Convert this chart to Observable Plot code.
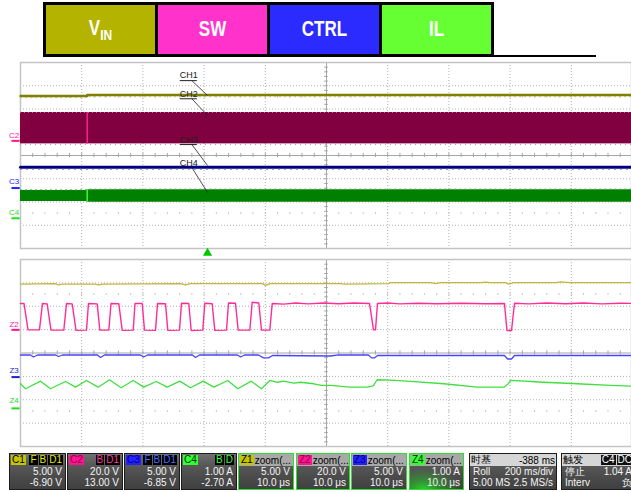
<!DOCTYPE html>
<html><head><meta charset="utf-8">
<script src="https://cdn.jsdelivr.net/npm/d3@7"></script>
<script src="https://cdn.jsdelivr.net/npm/@observablehq/plot@0.6"></script>
<style>
html,body{margin:0;padding:0;background:#fff;width:631px;height:492px;overflow:hidden;position:relative;font-family:"Liberation Sans",Arial,sans-serif;}
#legend{position:absolute;left:43px;top:2px;width:451px;height:55px;box-sizing:border-box;border:3px solid #000;display:flex;background:#000;}
#legend .lg{flex:1;display:flex;align-items:center;justify-content:center;}
#legend .lg + .lg{margin-left:3px;}
#legend .lt{color:#fff;font-weight:bold;font-size:17px;transform:scale(1,1.25);display:inline-block;}
#legend sub{font-size:12px;vertical-align:-4px;}
#bar{position:absolute;left:52px;top:55px;width:544px;height:2px;background:#000;}
#main{position:absolute;left:0;top:58px;}
#zoom{position:absolute;left:0;top:254px;}
.box{position:absolute;top:453px;height:37px;box-sizing:border-box;border:1px solid #1c1c1c;background:linear-gradient(to bottom,#707070 0,#5a5a5a 28%,#4c4c4c 62%,#404040 100%);font-size:10px;color:#f4f4f4;overflow:hidden;}
.box.z{border-color:#2ee02e;}
.hdr{height:12px;display:flex;align-items:center;padding:0 1px;box-sizing:border-box;white-space:nowrap;}
.hdr.zl{background:#a9a9a9;color:#000;}
.hdr.tb{background:#d6d6d6;color:#000;}
.hdr .sp{margin-left:auto;display:flex;}
.chip{display:inline-block;height:10px;line-height:10px;font-size:10px;padding:0 1px;margin-right:1px;}
.row{height:11px;line-height:11px;text-align:right;padding:0 3px;white-space:nowrap;display:flex;justify-content:space-between;}
.row .r{margin-left:auto;}
</style>
</head><body>
<div id="legend"></div>
<div id="bar"></div>
<div id="main"></div>
<div id="zoom"></div>
<div id="status"></div>
<script>
// ---------------- DATA ----------------
// legend
const legendMain = ["V", "SW", "CTRL", "IL"];
const legendSub = ["IN", "", "", ""];
const legendColors = ["#b4b400", "#ff33cc", "#2b2bff", "#66ff33"];

// main window (200 ms/div, time from left edge in ms), levels in divisions
const stepMs = 218;
const ch1Ms = [0, 218, 218, 2000];
const ch1Div = [2.56, 2.56, 2.60, 2.60];
const ch2BandDiv = [0.50, 1.85];
const ch3Ms = [0, 2000];
const ch3Div = [-0.50, -0.50];
const ch4Ms = [0, 218, 2000];
const ch4LoDiv = [-1.98, -2.01, -2.01];
const ch4HiDiv = [-1.505, -1.475, -1.475];

// zoom window (10 us/div, time from left edge in us), levels in divisions
const z1Us = [0, 5.72, 6.21, 6.86, 12.25, 12.75, 13.40, 26.14, 26.96, 27.78, 39.54, 40.03, 40.85, 52.29, 53.10, 60.13, 60.46, 66.99, 67.81, 68.63, 75.16, 75.98, 76.80, 79.25, 79.74, 80.56, 87.42, 88.24, 89.87, 100];
const z1Div = [2.95, 2.97, 2.91, 2.95, 2.95, 2.91, 2.95, 2.97, 2.91, 2.97, 2.97, 2.89, 2.97, 2.97, 2.95, 2.97, 3.01, 3.01, 2.97, 3.01, 3.01, 3.03, 3.01, 3.01, 2.95, 3.01, 3.01, 3.04, 3.01, 3.01];

const z2Us = [0, 0.57, 1.23, 3.10, 3.59, 4.36, 4.98, 7.08, 7.52, 8.45, 9.07, 10.78, 11.11, 12.53, 12.96, 14.43, 14.79, 16.06, 16.62, 18.42, 18.71, 19.89, 20.26, 22.06, 22.39, 23.69, 24.07, 25.98, 26.31, 27.50, 27.89, 29.79, 30.11, 31.32, 31.75, 33.66, 33.99, 35.13, 35.57, 37.47, 37.86, 38.94, 39.38, 40.74, 41.13,
  43, 45, 47, 49.5, 52, 54.5, 57.03, 57.68, 58.01, 58.33, 60, 62, 65, 68, 72, 76, 79.08, 79.49, 80.23, 80.72, 83, 86, 89, 92, 95, 98, 100];
const z2Div = [2.12, 2.12, 0.99, 0.99, 2.12, 2.10, 0.98, 0.98, 2.12, 2.10, 0.97, 0.98, 2.12, 2.10, 0.98, 0.98, 2.12, 2.11, 0.97, 0.98, 2.12, 2.12, 0.98, 0.97, 2.12, 2.11, 0.97, 0.98, 2.13, 2.12, 0.96, 0.98, 2.13, 2.11, 0.97, 0.98, 2.14, 2.13, 0.98, 0.98, 2.17, 2.14, 0.98, 0.98, 2.12,
  2.09, 2.14, 2.10, 2.14, 2.11, 2.14, 2.12, 0.99, 0.99, 2.12, 2.14, 2.10, 2.13, 2.11, 2.13, 2.11, 2.12, 0.96, 0.96, 2.13, 2.10, 2.14, 2.11, 2.14, 2.10, 2.13, 2.12];

const z3Us = [0, 1.63, 2.12, 2.78, 5.72, 6.21, 6.86, 12.58, 13.07, 13.73, 19.61, 20.10, 20.75, 28.10, 28.59, 29.25, 35.46, 35.95, 36.60, 38.89, 39.71, 40.52, 41.18, 50.65, 51.96, 56.86, 57.35, 57.84, 58.33, 79.08, 79.58, 80.23, 80.72, 100];
const z3Div = [-0.085, -0.085, -0.17, -0.085, -0.085, -0.15, -0.085, -0.085, -0.19, -0.085, -0.085, -0.17, -0.085, -0.085, -0.19, -0.085, -0.085, -0.17, -0.085, -0.085, -0.21, -0.21, -0.107, -0.128, -0.08, -0.085, -0.21, -0.21, -0.107, -0.107, -0.256, -0.256, -0.107, -0.107];

const z4Us = [0, 0.82, 3.27, 4.90, 7.35, 8.99, 10.78, 12.69, 14.54, 16.45, 18.41, 20.15, 22.17, 23.97, 26.03, 27.78, 29.85, 31.59, 33.87, 35.51, 37.69, 39.38, 40.20, 40.74, 41.94, 43.03, 44.66, 45.75, 47.93, 49.18, 50.65, 53.92, 56.65, 57.63, 58.28, 61.27, 63.73, 69.17, 74.62, 78.97, 79.58, 80.07, 85.51, 90.96, 96.41, 99.84];
const z4Div = [-1.316, -1.53, -1.205, -1.53, -1.218, -1.462, -1.175, -1.462, -1.145, -1.487, -1.175, -1.462, -1.218, -1.462, -1.205, -1.487, -1.205, -1.462, -1.175, -1.53, -1.205, -1.53, -1.316, -1.175, -1.252, -1.205, -1.291, -1.252, -1.316, -1.389, -1.389, -1.462, -1.462, -1.41, -1.145, -1.175, -1.218, -1.316, -1.462, -1.462, -1.35, -1.175, -1.252, -1.316, -1.389, -1.419];

// status bar
const chanIds = ["C1", "C2", "C3", "C4"];
const chanScale = ["5.00 V", "20.0 V", "5.00 V", "1.00 A"];
const chanOffset = ["-6.90 V", "13.00 V", "-6.85 V", "-2.70 A"];
const chanFlags = [["F", "B", "D1"], ["B", "D1"], ["F", "B", "D1"], ["B", "D"]];
const zoomIds = ["Z1", "Z2", "Z3", "Z4"];
const zoomScale = ["5.00 V", "20.0 V", "5.00 V", "1.00 A"];
const zoomTime = ["10.0 μs", "10.0 μs", "10.0 μs", "10.0 μs"];
const timebase = {title: "时基", delay: "-388 ms", mode: "Roll", div: "200 ms/div", mem: "5.00 MS", rate: "2.5 MS/s"};
const trigger = {title: "触发", src: "C4", cpl: "DC", state: "停止", level: "1.04 A", type: "Interv", slope: "负"};

// ---------------- COLORS ----------------
const mainColors = ["#808000", "#800040", "#000080", "#008000"];
const zoomColors = ["#c0b83c", "#ff2d96", "#4646ff", "#3fe03f"];
const chipBg = ["#c4c400", "#ff1493", "#2222ff", "#33ff33"];
const chipFg = ["#000", "#8a0040", "#00007a", "#003300"];
const flagFg = ["#e6e600", "#ff3ca0", "#4a6aff", "#33ff33"];

// ---------------- LEGEND ----------------
const lg = document.getElementById("legend");
legendMain.forEach((t, i) => {
  const d = document.createElement("div");
  d.className = "lg";
  d.style.background = legendColors[i];
  const s = document.createElement("span");
  s.className = "lt";
  s.textContent = t;
  if (legendSub[i]) { const sb = document.createElement("sub"); sb.textContent = legendSub[i]; s.appendChild(sb); }
  d.appendChild(s);
  lg.appendChild(d);
});

// ---------------- PLOTS ----------------
const X = {domain: [0, 10], range: [20, 632], axis: null};
const FONT = "Liberation Sans, Arial, sans-serif";
function grid() {
  const major = [1, 2, 3, 4, 6, 7, 8, 9];
  const minor = d3.range(0, 10.001, 0.2);
  const minorY = d3.range(-4, 4.001, 0.2);
  return [
    Plot.ruleX(major, {stroke: "#b0b0b0", strokeDasharray: "1,2"}),
    Plot.ruleY([-3, -2, -1, 1, 2, 3], {stroke: "#b0b0b0", strokeDasharray: "1,2"}),
    Plot.ruleX([5], {stroke: "#a6a6a6"}),
    Plot.ruleY([0], {stroke: "#a6a6a6"}),
    Plot.ruleX(minor, {y1: -0.09, y2: 0.09, stroke: "#a6a6a6"}),
    Plot.ruleY(minorY, {x1: 4.97, x2: 5.03, stroke: "#a6a6a6"}),
    Plot.ruleX(minor, {y1: 2.46, y2: 2.54, stroke: "#c4c4c4"}),
    Plot.ruleX(minor, {y1: -2.54, y2: -2.46, stroke: "#c4c4c4"}),
    Plot.frame({stroke: "#c4c4c4", strokeWidth: 1.5})
  ];
}
const toMain = ms => ms / 200;
const toZoom = us => us / 10;
const rows = (ts, vs, f) => ts.map((t, i) => ({x: f(t), y: vs[i]}));

const ch1 = rows(ch1Ms, ch1Div, toMain);
const ch3 = rows(ch3Ms, ch3Div, toMain);
const ch4 = ch4Ms.map((t, i) => ({x: toMain(t), lo: ch4LoDiv[i], hi: ch4HiDiv[i]}));
const stepX = toMain(stepMs);

const chLabels = [
  {text: "CH1", ty: 3.44, uy: 3.22, ly: 2.58, ul: true},
  {text: "CH2", ty: 2.64, uy: 2.44, ly: 1.72, ul: true},
  {text: "CH3", ty: 0.66, uy: 0.47, ly: -0.43, ul: true},
  {text: "CH4", ty: -0.33, uy: -0.52, ly: -1.59, ul: false}
];
const mainMarkers = [
  {text: "C2", ty: 0.88, my: 0.63, c: "#ff1493"},
  {text: "C3", ty: -1.13, my: -1.40, c: "#2222ff"},
  {text: "C4", ty: -2.44, my: -2.70, c: "#22dd22"}
];
const zoomMarkers = [
  {text: "Z2", ty: 1.22, my: 0.99, c: "#ff1493"},
  {text: "Z3", ty: -0.76, my: -1.03, c: "#2222cc"},
  {text: "Z4", ty: -2.04, my: -2.37, c: "#22dd22"}
];
function markerMarks(list) {
  return [
    Plot.text(list, {x: -0.105, y: "ty", text: "text", fill: "c", fontSize: 8, fontFamily: FONT}),
    Plot.ruleY(list, {y: "my", x1: -0.14, x2: -0.005, stroke: "c", strokeWidth: 2})
  ];
}

const main = Plot.plot({
  width: 631, height: 196, marginTop: 4, marginBottom: 6, marginLeft: 20, marginRight: 0,
  x: X, y: {domain: [-4, 4], axis: null},
  style: {background: "transparent", overflow: "visible"},
  marks: [
    ...grid(),
    Plot.rect([ch2BandDiv], {x1: 0, x2: 10, y1: d => d[0], y2: d => d[1], fill: mainColors[1]}),
    Plot.ruleY([ch2BandDiv[1]], {x1: 0, x2: 10, stroke: "#b46a90", strokeDasharray: "1,3", strokeWidth: 1}),
    Plot.ruleY([ch2BandDiv[0] - 0.03], {x1: 0, x2: 10, stroke: "#c890ac", strokeDasharray: "1,4", strokeWidth: 1}),
    Plot.ruleX([stepX], {y1: ch2BandDiv[0], y2: ch2BandDiv[1], stroke: "#ff1e8c", strokeWidth: 1.5}),
    Plot.line(ch1, {x: "x", y: "y", stroke: mainColors[0], strokeWidth: 2.5}),
    Plot.line(ch1, {x: "x", y: d => d.y - 0.07, stroke: "#b8b870", strokeWidth: 1, strokeDasharray: "1,4"}),
    Plot.line(ch3, {x: "x", y: "y", stroke: mainColors[2], strokeWidth: 3}),
    Plot.line(ch3, {x: "x", y: d => d.y - 0.09, stroke: "#6a6ab4", strokeWidth: 1, strokeDasharray: "1,5"}),
    Plot.areaY(ch4, {x: "x", y1: "lo", y2: "hi", fill: mainColors[3], curve: "step-after"}),
    Plot.line(ch4, {x: "x", y: d => d.hi + 0.03, stroke: "#5aa85a", strokeWidth: 1, strokeDasharray: "1,4", curve: "step-after"}),
    Plot.ruleX([stepX], {y1: ch4LoDiv[1], y2: ch4HiDiv[1], stroke: "#33ff33", strokeWidth: 1.5}),
    Plot.text(chLabels, {x: 2.75, y: "ty", text: "text", fontSize: 9, fontFamily: FONT, fill: "#222"}),
    Plot.ruleY(chLabels.filter(d => d.ul), {y: "uy", x1: 2.61, x2: 2.89, stroke: "#222", strokeWidth: 1}),
    Plot.link(chLabels, {x1: 2.8, y1: "uy", x2: 3.056, y2: "ly", stroke: "#222", strokeWidth: 0.8}),
    ...markerMarks(mainMarkers),
    Plot.dot([3.056], {x: d => d, y: -4.2, symbol: "triangle", r: 3.4, fill: "#00c800", stroke: "none"})
  ]
});
document.getElementById("main").appendChild(main);

const zoom = Plot.plot({
  width: 631, height: 196, marginTop: 5, marginBottom: 4, marginLeft: 20, marginRight: 0,
  x: X, y: {domain: [-4, 4], axis: null},
  style: {background: "transparent", overflow: "visible"},
  marks: [
    ...grid(),
    Plot.line(rows(z1Us, z1Div, toZoom), {x: "x", y: "y", stroke: zoomColors[0], strokeWidth: 1.3}),
    Plot.line(rows(z2Us, z2Div, toZoom), {x: "x", y: "y", stroke: zoomColors[1], strokeWidth: 1.4}),
    Plot.line(rows(z3Us, z3Div, toZoom), {x: "x", y: "y", stroke: zoomColors[2], strokeWidth: 1.3}),
    Plot.line(rows(z4Us, z4Div, toZoom), {x: "x", y: "y", stroke: zoomColors[3], strokeWidth: 1.3}),
    ...markerMarks(zoomMarkers)
  ]
});
document.getElementById("zoom").appendChild(zoom);

// ---------------- STATUS BAR ----------------
const st = document.getElementById("status");
const chanBox = [[9, 57], [67, 56], [124, 56], [181, 56]];
const zoomBox = [[238, 56], [296, 54], [351, 56], [409, 55]];
function chip(t, bg, fg) { return `<span class="chip" style="background:${bg};color:${fg}">${t}</span>`; }
function box(l, w, cls, html, extra) {
  const d = document.createElement("div");
  d.className = "box " + cls;
  d.style.left = l + "px"; d.style.width = w + "px";
  if (extra) d.style.background = extra;
  d.innerHTML = html;
  st.appendChild(d);
}
chanIds.forEach((id, i) => {
  const flags = chanFlags[i].map(f => chip(f, "#000", flagFg[i])).join("");
  box(chanBox[i][0], chanBox[i][1], "",
    `<div class="hdr">${chip(id, chipBg[i], chipFg[i])}<span class="sp">${flags}</span></div>
     <div class="row"><span class="r">${chanScale[i]}</span></div>
     <div class="row"><span class="r">${chanOffset[i]}</span></div>`);
});
zoomIds.forEach((id, i) => {
  box(zoomBox[i][0], zoomBox[i][1], "z",
    `<div class="hdr zl">${chip(id, chipBg[i], chipFg[i])}<span style="font-size:10px">zoom(...</span></div>
     <div class="row"><span class="r">${zoomScale[i]}</span></div>
     <div class="row"><span class="r">${zoomTime[i]}</span></div>`,
    i === 3 ? "radial-gradient(ellipse 70% 60% at 25% 100%, #28d028 0%, rgba(40,208,40,0.5) 40%, rgba(0,0,0,0) 100%), linear-gradient(to bottom,#707070 0,#5a5a5a 28%,#4c4c4c 62%,#404040 100%)" : null);
});
box(469, 88, "",
  `<div class="hdr tb"><span>${timebase.title}</span><span class="sp">${timebase.delay}</span></div>
   <div class="row"><span>${timebase.mode}</span><span>${timebase.div}</span></div>
   <div class="row"><span>${timebase.mem}</span><span>${timebase.rate}</span></div>`);
box(561, 75, "",
  `<div class="hdr tb"><span>${trigger.title}</span><span class="sp">${chip(trigger.src, "#111", "#fff")}${chip(trigger.cpl, "#111", "#fff")}</span></div>
   <div class="row"><span>${trigger.state}</span><span>${trigger.level}</span></div>
   <div class="row"><span>${trigger.type}</span><span>${trigger.slope}</span></div>`);
</script>
</body></html>
